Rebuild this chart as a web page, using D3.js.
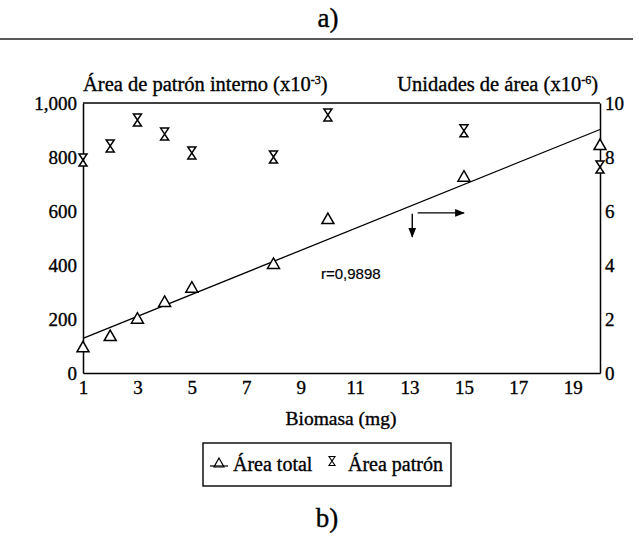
<!DOCTYPE html>
<html>
<head>
<meta charset="utf-8">
<script src="https://cdn.jsdelivr.net/npm/d3@7"></script>
<style>
  body { margin: 0; background: #fff; }
  text { font-family: "Liberation Serif", "Times New Roman", serif; fill: #000; stroke: #000; stroke-width: 0.35px; }
</style>
</head>
<body>
<div id="chart"></div>
<script>
// Data
const biomasa = [1, 2, 3, 4, 5, 8, 10, 15, 20];
const areaTotal = [0.95, 1.37, 2.01, 2.63, 3.16, 4.04, 5.70, 7.27, 8.44];   // right axis (x10^-6)
const areaPatron = [789, 841, 937, 885, 815, 800, 956, 897, 763];         // left axis (x10^-3)
const leftTicks = [0, 200, 400, 600, 800, 1000];
const rightTicks = [0, 2, 4, 6, 8, 10];
const xTicks = [1, 3, 5, 7, 9, 11, 13, 15, 17, 19];

const W = 639, H = 540;
const svg = d3.select('#chart').append('svg')
    .attr('width', W).attr('height', H);
svg.append('rect').attr('width', W).attr('height', H).attr('fill', '#fff');

const x = d3.scaleLinear().domain([1, 20]).range([83, 600]);
const yL = d3.scaleLinear().domain([0, 1000]).range([373, 103]);
const yR = d3.scaleLinear().domain([0, 10]).range([373, 103]);

// panel label a) and separator
svg.append('text').attr('x', 328).attr('y', 27).attr('text-anchor', 'middle')
    .style('font-size', '27px').text('a)');
svg.append('line').attr('x1', 0).attr('x2', 633).attr('y1', 39).attr('y2', 39)
    .attr('stroke', '#222').attr('stroke-width', 1.5);

// axes
const gL = svg.append('g').attr('transform', `translate(${x(1)},0)`)
    .call(d3.axisLeft(yL).tickValues(leftTicks).tickFormat(d3.format(','))
        .tickSize(0).tickSizeOuter(0).tickPadding(6));
const gR = svg.append('g').attr('transform', `translate(${x(20)},0)`)
    .call(d3.axisRight(yR).tickValues(rightTicks)
        .tickSize(0).tickSizeOuter(0).tickPadding(5));
const gB = svg.append('g').attr('transform', `translate(0,${yL(0)})`)
    .call(d3.axisBottom(x).tickValues(xTicks)
        .tickSize(0).tickSizeOuter(0).tickPadding(8));
[gL, gR, gB].forEach(g => {
    g.select('.domain').attr('stroke', '#000').attr('stroke-width', 1.5);
    g.selectAll('text').style('font-size', '19px')
        .style('font-family', '"Liberation Serif", serif').attr('fill', '#000');
});
svg.append('line')
    .attr('x1', x(1)).attr('x2', x(20)).attr('y1', yL(1000)).attr('y2', yL(1000))
    .attr('stroke', '#000').attr('stroke-width', 1.5);

// axis titles
function titleWithSup(tx, ty, main, sup) {
    const t = svg.append('text').attr('x', tx).attr('y', ty).style('font-size', '20.5px');
    t.append('tspan').text(main);
    t.append('tspan').attr('dy', -7).style('font-size', '12px').text(sup);
    t.append('tspan').attr('dy', 7).text(')');
    return t;
}
titleWithSup(83, 91, 'Área de patrón interno (x10', '-3');
titleWithSup(598, 91, 'Unidades de área (x10', '-6').attr('text-anchor', 'end');
svg.append('text').attr('x', 341).attr('y', 425).attr('text-anchor', 'middle')
    .style('font-size', '19.5px').text('Biomasa (mg)');

// regression line for Área total
const mx = d3.mean(biomasa), my = d3.mean(areaTotal);
const sxy = d3.sum(biomasa, (d, i) => (d - mx) * (areaTotal[i] - my));
const sxx = d3.sum(biomasa, d => (d - mx) * (d - mx));
const slope = sxy / sxx, icept = my - slope * mx;
svg.append('path')
    .datum([1, 20])
    .attr('fill', 'none').attr('stroke', '#000').attr('stroke-width', 1.3)
    .attr('d', d3.line().x(d => x(d)).y(d => yR(icept + slope * d)));

// markers
const triPath = 'M0,-6 L6,4.5 L-6,4.5 Z';
const hourPath = (w, h) => `M${-w},${-h} L${w},${-h} L${-w},${h} L${w},${h} Z`;

svg.selectAll('.tri').data(biomasa).enter().append('path')
    .attr('class', 'tri')
    .attr('transform', (d, i) => `translate(${x(d)},${yR(areaTotal[i])})`)
    .attr('d', triPath).attr('fill', '#fff').attr('stroke', '#000').attr('stroke-width', 1.5);

svg.selectAll('.hg').data(biomasa).enter().append('path')
    .attr('class', 'hg')
    .attr('transform', (d, i) => `translate(${x(d)},${yL(areaPatron[i])})`)
    .attr('d', hourPath(4, 6)).attr('fill', '#fff').attr('stroke', '#000').attr('stroke-width', 1.5);

// annotation: r value and arrows
svg.append('text').attr('x', 321).attr('y', 279)
    .style('font-family', '"Liberation Sans", Arial, sans-serif').style('font-size', '15px')
    .style('stroke-width', '0.2px')
    .text('r=0,9898');

const defs = svg.append('defs');
defs.append('marker').attr('id', 'head').attr('viewBox', '0 0 10 10')
    .attr('refX', 9).attr('refY', 5).attr('markerWidth', 7).attr('markerHeight', 7)
    .attr('orient', 'auto')
    .append('path').attr('d', 'M0,1 L10,5 L0,9 Z').attr('fill', '#000');
svg.append('line')
    .attr('x1', x(13.1)).attr('x2', x(13.1)).attr('y1', yL(590)).attr('y2', yL(505))
    .attr('stroke', '#000').attr('stroke-width', 1.4).attr('marker-end', 'url(#head)');
svg.append('line')
    .attr('x1', x(13.3)).attr('x2', x(15)).attr('y1', yL(593)).attr('y2', yL(593))
    .attr('stroke', '#000').attr('stroke-width', 1.4).attr('marker-end', 'url(#head)');

// legend
const lg = svg.append('g');
lg.append('rect').attr('x', 203).attr('y', 443).attr('width', 248).attr('height', 43)
    .attr('fill', '#fff').attr('stroke', '#000').attr('stroke-width', 1.4);
lg.append('line').attr('x1', 210).attr('x2', 228).attr('y1', 466).attr('y2', 466)
    .attr('stroke', '#000').attr('stroke-width', 1.2);
lg.append('path').attr('transform', 'translate(219,463)')
    .attr('d', 'M0,-5 L5,4 L-5,4 Z').attr('fill', 'none').attr('stroke', '#000').attr('stroke-width', 1.2);
lg.append('text').attr('x', 233).attr('y', 471).style('font-size', '20px').text('Área total');
lg.append('path').attr('transform', 'translate(332,461)')
    .attr('d', hourPath(3, 4.5)).attr('fill', 'none').attr('stroke', '#000').attr('stroke-width', 1.1);
lg.append('text').attr('x', 348).attr('y', 471).style('font-size', '20px').text('Área patrón');

// panel label b)
svg.append('text').attr('x', 327).attr('y', 527).attr('text-anchor', 'middle')
    .style('font-size', '27px').text('b)');
</script>
</body>
</html>
